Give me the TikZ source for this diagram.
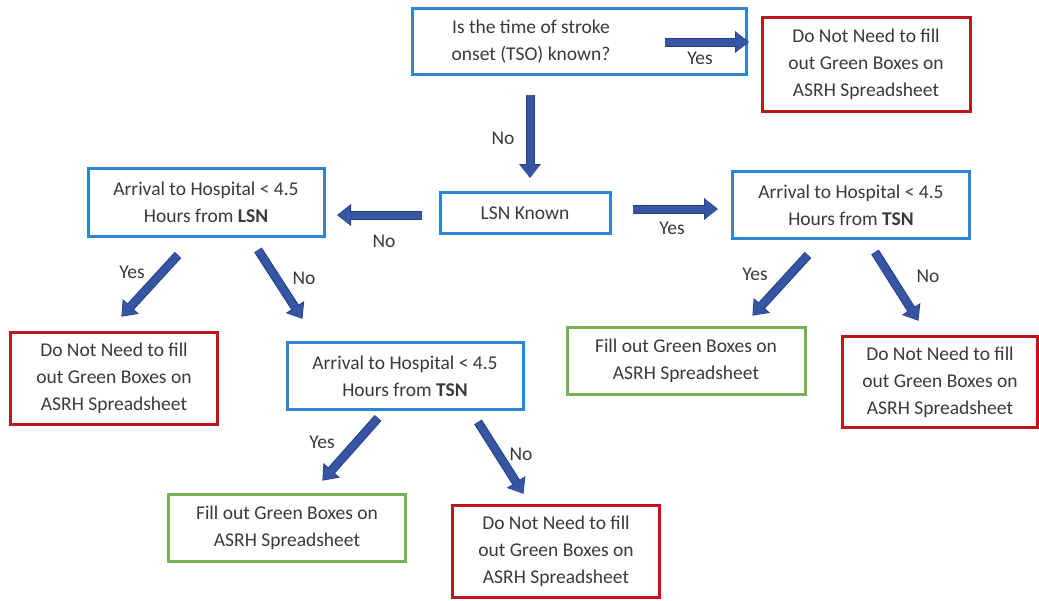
\documentclass[tikz,border=0pt]{standalone}
\usepackage{fontspec}
\setmainfont{Carlito}
\usetikzlibrary{arrows.meta}
\definecolor{bblue}{HTML}{2C86D6}
\definecolor{rred}{HTML}{C0151E}
\definecolor{ggreen}{HTML}{78B152}
\definecolor{arr}{HTML}{3656A3}
\definecolor{arrdark}{HTML}{233F85}
\definecolor{txt}{HTML}{3A3A3A}
\tikzset{
  box/.style={draw, line width=3pt, fill=white, align=center, inner sep=0pt,
    font=\fontsize{19.5}{27}\selectfont, text=txt},
  bluebox/.style={box, draw=bblue},
  redbox/.style={box, draw=rred},
  greenbox/.style={box, draw=ggreen},
  blk/.style={line width=7pt, draw=arr, -{Triangle[width=18pt,length=12pt]},
    preaction={draw=arrdark, line width=9pt, -{Triangle[width=21pt,length=14pt]}, shorten >=-1pt}},
  lbl/.style={font=\fontsize{19.5}{22}\selectfont, text=txt, inner sep=0pt}
}
\begin{document}
\begin{tikzpicture}[x=1pt,y=-1pt]
\useasboundingbox[fill=white] (0,0) rectangle (1039,600);
% boxes
\node[bluebox, minimum width=334pt, minimum height=66pt] (tso) at (579,41) {\rule{0pt}{14pt}Is the time of stroke\hspace*{96pt}\\onset (TSO) known?\hspace*{96pt}};
\node[redbox, minimum width=208pt, minimum height=94pt] (r1) at (866,64) {Do Not Need to fill\\out Green Boxes on\\ASRH Spreadsheet};
\node[bluebox, minimum width=170pt, minimum height=41pt] (lsn) at (525,213) {LSN Known};
\node[bluebox, minimum width=236pt, minimum height=68pt] (lbox) at (206,202) {Arrival to Hospital {<} 4.5\\Hours from \textbf{LSN}};
\node[bluebox, minimum width=237pt, minimum height=67pt] (rbox) at (851,205) {Arrival to Hospital {<} 4.5\\Hours from \textbf{TSN}};
\node[greenbox, minimum width=238pt, minimum height=67pt] (rg) at (686,361) {Fill out Green Boxes on\\ASRH Spreadsheet};
\node[redbox, minimum width=195pt, minimum height=91pt] (rr) at (940,382) {Do Not Need to fill\\out Green Boxes on\\ASRH Spreadsheet};
\node[redbox, minimum width=207pt, minimum height=92pt] (lr) at (114,378) {Do Not Need to fill\\out Green Boxes on\\ASRH Spreadsheet};
\node[bluebox, minimum width=236pt, minimum height=67pt] (mbox) at (405,376) {Arrival to Hospital {<} 4.5\\Hours from \textbf{TSN}};
\node[greenbox, minimum width=237pt, minimum height=67pt] (bg) at (287,528) {Fill out Green Boxes on\\ASRH Spreadsheet};
\node[redbox, minimum width=207pt, minimum height=92pt] (br) at (556,551) {Do Not Need to fill\\out Green Boxes on\\ASRH Spreadsheet};
% arrow end points
\coordinate (a1t) at (665,42);  \coordinate (a1h) at (748,42);
\coordinate (a2t) at (530,95);  \coordinate (a2h) at (530,177);
\coordinate (a3t) at (422,215); \coordinate (a3h) at (338,215);
\coordinate (a4t) at (633,209); \coordinate (a4h) at (717,209);
\coordinate (a5t) at (178,255); \coordinate (a5h) at (122,316);
\coordinate (a6t) at (258,250); \coordinate (a6h) at (302,318);
\coordinate (a7t) at (808,255); \coordinate (a7h) at (753,315);
\coordinate (a8t) at (875,252); \coordinate (a8h) at (918,320);
\coordinate (a9t) at (378,418); \coordinate (a9h) at (323,480);
\coordinate (a10t) at (478,422); \coordinate (a10h) at (523,493);
\foreach \i in {1,...,10} {\draw[blk] (a\i t) -- (a\i h);}
% labels
\node[lbl] (y1) at (700,58) {Yes};
\node[lbl] (n2) at (503,138) {No};
\node[lbl] (n3) at (384,241) {No};
\node[lbl] (y4) at (672,228) {Yes};
\node[lbl] (y5) at (132,272) {Yes};
\node[lbl] (n6) at (304,278) {No};
\node[lbl] (y7) at (755,274) {Yes};
\node[lbl] (n8) at (928,276) {No};
\node[lbl] (y9) at (322,442) {Yes};
\node[lbl] (n10) at (521,454) {No};
\end{tikzpicture}
\end{document}
